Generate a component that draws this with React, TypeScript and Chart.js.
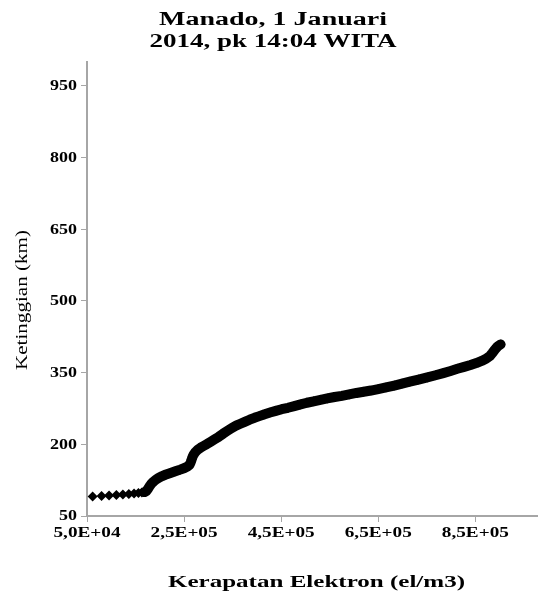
import React, { useEffect, useRef } from "react";
import { Chart, registerables } from "chart.js";

Chart.register(...registerables);

// Electron density profile (el/m3) against height (km)
const densityValues: number[] = [
  61600, 80000, 95400, 110500, 123900, 136200, 147000, 156000, 163000, 168500,
  172000, 175000, 177500, 180000, 183000, 187000, 192000, 198000, 205000, 213000,
  222000, 232000, 242000, 251000, 257000, 261000, 263500, 265500, 267500, 270000,
  273500, 278000, 284000, 290000, 297000, 305000, 313000, 321000, 330000, 339000,
  348000, 357000, 366000, 375000, 385000, 395000, 405000, 416000, 427000, 439000,
  451000, 464000, 477000, 490000, 503000, 517000, 531000, 545000, 560000, 575000,
  590000, 605000, 620000, 635000, 650000, 666000, 683000, 699000, 715000, 733000,
  751000, 768000, 784000, 799000, 813000, 827000, 840000, 852000, 863000, 872000,
  880000, 885000, 890000, 896000, 902000,
];

const heightValues: number[] = [
  91, 92, 93, 94, 95, 96, 97, 98, 99, 100,
  102, 106, 110, 114, 118, 122, 126, 130, 133.5, 137,
  140, 143.5, 147, 150.5, 153.5, 157, 162, 168, 174, 179,
  184, 188.5, 193, 196.5, 200.5, 205.5, 210.5, 215.5, 222, 228,
  234, 239, 243, 247, 251.5, 255.5, 259, 263, 266.5, 270,
  273.5, 276.5, 280, 283.5, 287, 290, 293, 296, 299, 301.5,
  304.5, 307.5, 310, 312.5, 315.5, 319, 323, 327, 331, 335.5,
  340, 344.5, 349, 353.5, 358, 362, 366, 370, 374.5, 379,
  385, 391, 398, 405, 409,
];

const xTickValues: number[] = [50000, 250000, 450000, 650000, 850000];
const yTickValues: number[] = [50, 200, 350, 500, 650, 800, 950];

const titleLines: string[] = ["Manado, 1 Januari", "2014, pk 14:04 WITA"];
const xAxisTitle = "Kerapatan Elektron (el/m3)";
const yAxisTitle = "Ketinggian (km)";

const SERIF = "'Liberation Serif', 'Times New Roman', serif";
const AXIS_GREY = "#a6a6a6";

function formatSci(v: number): string {
  const exp = Math.floor(Math.log10(v) + 1e-9);
  const mant = v / Math.pow(10, exp);
  return `${mant.toFixed(1).replace(".", ",")}E+${String(exp).padStart(2, "0")}`;
}

// horizontal stretch that makes `sample` as wide as `width` in the current font
function stretchFor(ctx: CanvasRenderingContext2D, sample: string, width: number): number {
  return width / ctx.measureText(sample).width;
}

function drawWide(
  ctx: CanvasRenderingContext2D,
  text: string,
  x: number,
  y: number,
  sx: number,
  align: "left" | "center" | "right"
) {
  const w = ctx.measureText(text).width * sx;
  const left = align === "left" ? x : align === "center" ? x - w / 2 : x - w;
  ctx.save();
  ctx.translate(left, y);
  ctx.scale(sx, 1);
  ctx.textAlign = "left";
  ctx.fillText(text, 0, 0);
  ctx.restore();
}

const textPlugin = {
  id: "profileTexts",
  afterDraw(chart: any) {
    const { ctx, chartArea } = chart;
    const xs = chart.scales.x;
    const ys = chart.scales.y;
    ctx.save();
    ctx.fillStyle = "#000";

    // chart title, two lines
    ctx.font = `bold 18px ${SERIF}`;
    ctx.textBaseline = "alphabetic";
    drawWide(ctx, titleLines[0], 273, 25, stretchFor(ctx, titleLines[0], 228), "center");
    drawWide(ctx, titleLines[1], 273, 47, stretchFor(ctx, titleLines[1], 247), "center");

    // tick labels
    ctx.font = `bold 15px ${SERIF}`;
    ctx.textBaseline = "middle";
    const ySx = stretchFor(ctx, "950", 27);
    yTickValues.forEach((v) => {
      drawWide(ctx, String(v), 77, ys.getPixelForValue(v) + 0.5, ySx, "right");
    });
    const xSx = stretchFor(ctx, formatSci(250000), 67);
    xTickValues.forEach((v) => {
      drawWide(ctx, formatSci(v), xs.getPixelForValue(v), chartArea.bottom + 17, xSx, "center");
    });

    // axis titles
    ctx.textBaseline = "alphabetic";
    ctx.font = `bold 17px ${SERIF}`;
    drawWide(ctx, xAxisTitle, 316.5, 587, stretchFor(ctx, xAxisTitle, 297), "center");

    ctx.translate(27, 300);
    ctx.rotate(-Math.PI / 2);
    ctx.font = `17px ${SERIF}`;
    drawWide(ctx, yAxisTitle, 0, 0, stretchFor(ctx, yAxisTitle, 140), "center");
    ctx.restore();
  },
};

export default function App() {
  const canvasRef = useRef<HTMLCanvasElement | null>(null);

  useEffect(() => {
    document.body.style.margin = "0";
    const canvas = canvasRef.current;
    if (!canvas) return;

    const points = densityValues.map((x, i) => ({ x, y: heightValues[i] }));
    const lineStart = 168500;

    const axisGrid = {
      display: true,
      drawOnChartArea: false,
      drawTicks: true,
      tickLength: 6,
      color: AXIS_GREY,
      lineWidth: 1,
    };

    const chart = new Chart(canvas, {
      type: "scatter",
      data: {
        datasets: [
          {
            data: points,
            showLine: true,
            borderColor: "#000",
            borderWidth: 10,
            borderJoinStyle: "round",
            borderCapStyle: "round",
            pointStyle: "rectRot",
            pointRadius: 5,
            pointBackgroundColor: "#000",
            pointBorderWidth: 0,
            segment: {
              borderColor: (ctx: any) =>
                ctx.p1.parsed.x <= lineStart ? "rgba(0,0,0,0)" : "#000",
            },
          } as any,
        ],
      },
      options: {
        responsive: false,
        animation: false,
        layout: { padding: { top: 62, right: 0, bottom: 0, left: 0 } },
        plugins: {
          legend: { display: false },
          title: { display: false },
          tooltip: { enabled: false },
        },
        scales: {
          x: {
            type: "linear",
            min: 50000,
            max: 977000,
            afterBuildTicks: (scale: any) => {
              scale.ticks = xTickValues.map((value) => ({ value }));
            },
            afterFit: (scale: any) => {
              scale.height = 76;
            },
            grid: axisGrid,
            border: { display: true, color: AXIS_GREY, width: 2 },
            ticks: { display: false, autoSkip: false, maxRotation: 0 },
          },
          y: {
            type: "linear",
            min: 50,
            max: 1000,
            afterBuildTicks: (scale: any) => {
              scale.ticks = yTickValues.map((value) => ({ value }));
            },
            afterFit: (scale: any) => {
              scale.width = 87;
            },
            grid: axisGrid,
            border: { display: true, color: AXIS_GREY, width: 2 },
            ticks: { display: false, autoSkip: false },
          },
        },
      },
      plugins: [textPlugin],
    });

    return () => chart.destroy();
  }, []);

  return (
    <div style={{ width: 542, height: 592, background: "#fff" }}>
      <canvas ref={canvasRef} width={542} height={592} />
    </div>
  );
}
